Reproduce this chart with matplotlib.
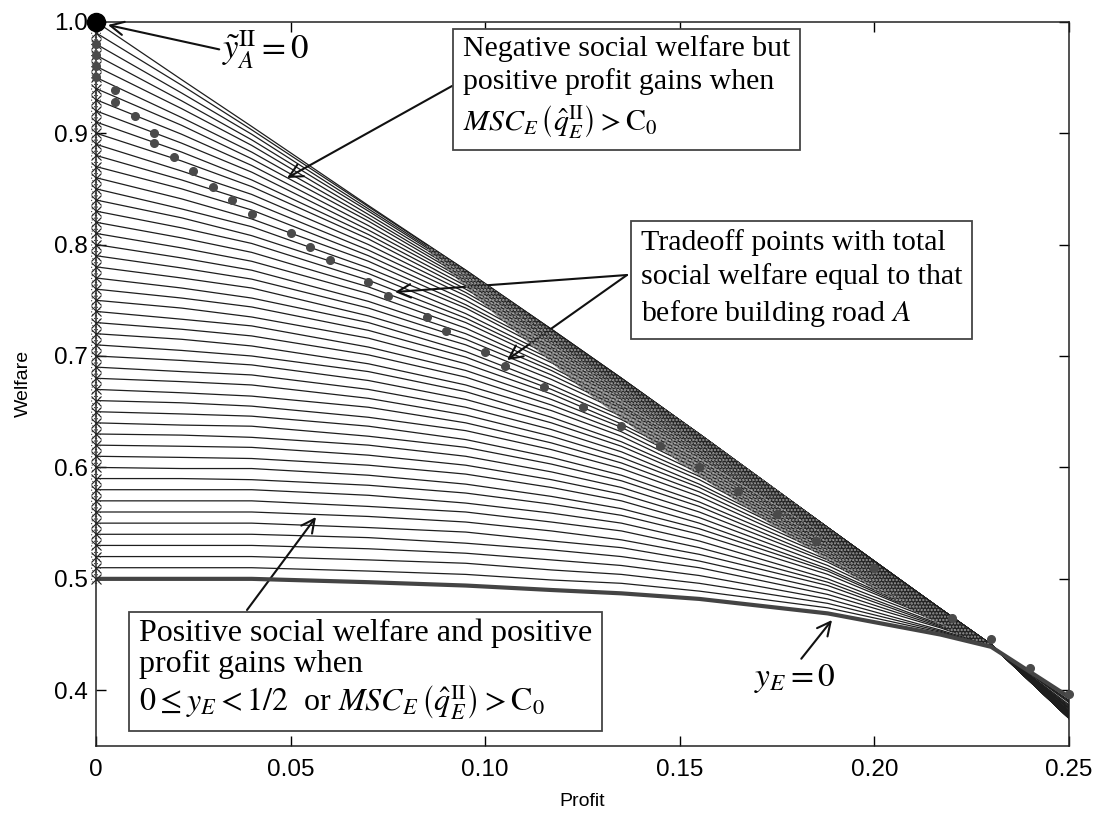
import matplotlib
matplotlib.use("Agg")
import matplotlib.pyplot as plt

plt.rcParams['font.family'] = ['Liberation Sans', 'DejaVu Sans']
plt.rcParams['mathtext.fontset'] = 'stix'
plt.rcParams['hatch.linewidth'] = 1.1

# ---------------- data ----------------
# profit positions at which every welfare curve is sampled
p_cols = [0.0, 0.022, 0.04, 0.07, 0.095, 0.117, 0.135, 0.155, 0.188, 0.217, 0.23, 0.25]

# welfare of the 51 curves (bottom curve y_E = 0 first, top curve last) at each profit column
w_p000 = [0.50, 0.51, 0.52, 0.53, 0.54, 0.55, 0.56, 0.57, 0.58, 0.59, 0.60, 0.61, 0.62, 0.63, 0.64,
          0.65, 0.66, 0.67, 0.68, 0.69, 0.70, 0.71, 0.72, 0.73, 0.74, 0.75, 0.76, 0.77, 0.78, 0.79,
          0.80, 0.81, 0.82, 0.83, 0.84, 0.85, 0.86, 0.87, 0.88, 0.89, 0.90, 0.91, 0.92, 0.93, 0.94,
          0.95, 0.96, 0.97, 0.98, 0.99, 1.00]
w_p022 = [0.500, 0.510, 0.520, 0.530, 0.540, 0.550, 0.560, 0.570, 0.580, 0.590, 0.599, 0.609, 0.619,
          0.629, 0.638, 0.648, 0.658, 0.667, 0.677, 0.686, 0.696, 0.705, 0.715, 0.724, 0.733, 0.743,
          0.752, 0.761, 0.770, 0.779, 0.788, 0.797, 0.806, 0.815, 0.824, 0.832, 0.841, 0.850, 0.858,
          0.866, 0.875, 0.883, 0.891, 0.899, 0.907, 0.914, 0.922, 0.929, 0.936, 0.943, 0.948]
w_p040 = [0.500, 0.510, 0.520, 0.530, 0.540, 0.550, 0.560, 0.570, 0.580, 0.589, 0.599, 0.608, 0.618,
          0.627, 0.637, 0.646, 0.655, 0.664, 0.674, 0.683, 0.692, 0.700, 0.709, 0.718, 0.727, 0.735,
          0.744, 0.752, 0.761, 0.769, 0.777, 0.785, 0.793, 0.801, 0.808, 0.816, 0.823, 0.831, 0.838,
          0.845, 0.852, 0.858, 0.865, 0.871, 0.877, 0.883, 0.889, 0.894, 0.899, 0.903, 0.906]
w_p070 = [0.497, 0.507, 0.517, 0.527, 0.537, 0.546, 0.556, 0.565, 0.575, 0.584, 0.593, 0.602, 0.611,
          0.620, 0.628, 0.637, 0.645, 0.654, 0.662, 0.670, 0.678, 0.686, 0.693, 0.701, 0.708, 0.716,
          0.723, 0.730, 0.736, 0.743, 0.749, 0.756, 0.762, 0.768, 0.774, 0.779, 0.785, 0.790, 0.795,
          0.800, 0.805, 0.809, 0.813, 0.817, 0.821, 0.824, 0.827, 0.830, 0.832, 0.834, 0.835]
w_p095 = [0.494, 0.504, 0.514, 0.523, 0.532, 0.542, 0.551, 0.560, 0.568, 0.577, 0.585, 0.594, 0.602,
          0.610, 0.618, 0.625, 0.633, 0.640, 0.647, 0.654, 0.661, 0.668, 0.674, 0.681, 0.687, 0.693,
          0.699, 0.704, 0.710, 0.715, 0.720, 0.725, 0.730, 0.734, 0.738, 0.743, 0.746, 0.750, 0.754,
          0.757, 0.760, 0.763, 0.766, 0.768, 0.770, 0.772, 0.774, 0.775, 0.776, 0.777, 0.777]
w_p117 = [0.490, 0.499, 0.508, 0.517, 0.526, 0.534, 0.543, 0.551, 0.559, 0.567, 0.574, 0.582, 0.589,
          0.596, 0.603, 0.609, 0.616, 0.622, 0.628, 0.634, 0.640, 0.645, 0.651, 0.656, 0.661, 0.666,
          0.670, 0.674, 0.679, 0.683, 0.687, 0.690, 0.694, 0.697, 0.700, 0.703, 0.706, 0.708, 0.711,
          0.713, 0.715, 0.716, 0.718, 0.719, 0.721, 0.722, 0.723, 0.723, 0.724, 0.724, 0.724]
w_p135 = [0.487, 0.496, 0.504, 0.512, 0.520, 0.528, 0.535, 0.543, 0.550, 0.557, 0.563, 0.570, 0.576,
          0.582, 0.588, 0.593, 0.599, 0.604, 0.609, 0.614, 0.619, 0.623, 0.628, 0.632, 0.636, 0.639,
          0.643, 0.646, 0.650, 0.653, 0.655, 0.658, 0.661, 0.663, 0.665, 0.667, 0.669, 0.671, 0.672,
          0.674, 0.675, 0.676, 0.677, 0.678, 0.678, 0.679, 0.679, 0.680, 0.680, 0.680, 0.680]
w_p155 = [0.482, 0.489, 0.496, 0.503, 0.510, 0.516, 0.522, 0.528, 0.534, 0.540, 0.545, 0.550, 0.555,
          0.560, 0.565, 0.569, 0.574, 0.578, 0.582, 0.585, 0.589, 0.592, 0.595, 0.598, 0.601, 0.604,
          0.606, 0.609, 0.611, 0.613, 0.615, 0.617, 0.618, 0.620, 0.621, 0.623, 0.624, 0.625, 0.626,
          0.627, 0.627, 0.628, 0.628, 0.629, 0.629, 0.630, 0.630, 0.630, 0.630, 0.630, 0.630]
w_p188 = [0.469, 0.474, 0.478, 0.482, 0.486, 0.490, 0.494, 0.497, 0.500, 0.504, 0.507, 0.509, 0.512,
          0.515, 0.517, 0.520, 0.522, 0.524, 0.526, 0.528, 0.529, 0.531, 0.532, 0.534, 0.535, 0.536,
          0.537, 0.539, 0.539, 0.540, 0.541, 0.542, 0.542, 0.543, 0.543, 0.544, 0.544, 0.545, 0.545,
          0.545, 0.545, 0.546, 0.546, 0.546, 0.546, 0.546, 0.546, 0.546, 0.546, 0.546, 0.546]
w_p217 = [0.450, 0.452, 0.453, 0.454, 0.456, 0.457, 0.458, 0.459, 0.461, 0.462, 0.462, 0.463, 0.464,
          0.465, 0.466, 0.466, 0.467, 0.468, 0.468, 0.469, 0.469, 0.470, 0.470, 0.470, 0.471, 0.471,
          0.471, 0.471, 0.472, 0.472, 0.472, 0.472, 0.472, 0.472, 0.473, 0.473, 0.473, 0.473, 0.473,
          0.473, 0.473, 0.473, 0.473, 0.473, 0.473, 0.473, 0.473, 0.473, 0.473, 0.473, 0.473]
w_p230 = [0.439, 0.439, 0.439, 0.440, 0.440, 0.440, 0.440, 0.440, 0.440, 0.440, 0.440, 0.440, 0.440,
          0.441, 0.441, 0.441, 0.441, 0.441, 0.441, 0.441, 0.441, 0.441, 0.441, 0.441, 0.441, 0.441,
          0.441, 0.441, 0.441, 0.441, 0.441, 0.441, 0.441, 0.441, 0.441, 0.441, 0.441, 0.441, 0.441,
          0.441, 0.441, 0.441, 0.441, 0.441, 0.441, 0.441, 0.441, 0.441, 0.441, 0.441, 0.441]
w_p250 = [0.394, 0.393, 0.391, 0.390, 0.389, 0.387, 0.386, 0.385, 0.384, 0.384, 0.383, 0.382, 0.381,
          0.381, 0.380, 0.380, 0.379, 0.379, 0.378, 0.378, 0.377, 0.377, 0.377, 0.377, 0.376, 0.376,
          0.376, 0.376, 0.376, 0.376, 0.375, 0.375, 0.375, 0.375, 0.375, 0.375, 0.375, 0.375, 0.375,
          0.375, 0.375, 0.375, 0.375, 0.375, 0.375, 0.375, 0.375, 0.375, 0.375, 0.375, 0.375]

# tradeoff points (total social welfare equal to that before building road A)
tp_profit = [0.0, 0.0, 0.0, 0.0, 0.005, 0.005, 0.010, 0.015, 0.015, 0.020, 0.025, 0.030, 0.035,
             0.040, 0.050, 0.055, 0.060, 0.070, 0.075, 0.085, 0.090, 0.100, 0.105, 0.115, 0.125,
             0.135, 0.145, 0.155, 0.165, 0.175, 0.185, 0.200, 0.220, 0.230, 0.240, 0.250]
tp_welfare = [0.980, 0.970, 0.960, 0.950, 0.939, 0.928, 0.915, 0.900, 0.891, 0.879, 0.866, 0.852,
              0.840, 0.827, 0.810, 0.798, 0.786, 0.766, 0.754, 0.735, 0.722, 0.704, 0.691, 0.672,
              0.654, 0.637, 0.619, 0.600, 0.579, 0.558, 0.534, 0.510, 0.465, 0.446, 0.420, 0.397]

# dense dotted band hugging the upper envelope
band_profit = [0.085, 0.10, 0.125, 0.15, 0.175, 0.20, 0.22, 0.23]
band_hi = [0.800, 0.765, 0.704, 0.643, 0.580, 0.515, 0.465, 0.441]
band_lo = [0.795, 0.745, 0.670, 0.604, 0.545, 0.490, 0.452, 0.439]

# corner point y~_A^II = 0
corner_profit = [0.0]
corner_welfare = [1.0]

x_ticks = [0, 0.05, 0.10, 0.15, 0.20, 0.25]
x_tick_labels = ['0', '0.05', '0.10', '0.15', '0.20', '0.25']
y_ticks = [0.4, 0.5, 0.6, 0.7, 0.8, 0.9, 1.0]
y_tick_labels = ['0.4', '0.5', '0.6', '0.7', '0.8', '0.9', '1.0']

# ---------------- drawing ----------------
W, H = 1099, 814
fig = plt.figure(figsize=(W / 100, H / 100), dpi=100)
ax = fig.add_axes([96 / W, 1 - 746 / H, (1069 - 96) / W, (746 - 21.7) / H])
ax.set_xlim(0, 0.25)
ax.set_ylim(0.35, 1.0)

columns = [w_p000, w_p022, w_p040, w_p070, w_p095, w_p117, w_p135, w_p155, w_p188, w_p217,
           w_p230, w_p250]
n_curves = len(w_p000)

for i in range(n_curves - 1, -1, -1):
    ys = [col[i] for col in columns]
    if i == 0:
        ax.plot(p_cols, ys, color='#444444', lw=3.0, zorder=4, solid_joinstyle='round')
    else:
        ax.plot(p_cols, ys, color='#1e1e1e', lw=0.9, zorder=3)

# dotted band drawn over the crowded upper curves (lines still show through)
ax.fill_between(band_profit, band_lo, band_hi, facecolor='#262626', edgecolor='#e0e0e0',
                hatch='.....', linewidth=0, alpha=0.6, zorder=3.5)

# start markers (x and dotted circle) on the welfare axis
ax.plot([0.0] * n_curves, w_p000, linestyle='none', marker='x', ms=7, mew=0.8, color='#222222',
        clip_on=False, zorder=5)
ax.scatter([0.0] * n_curves, w_p000, s=40, facecolors='none', edgecolors='#333333',
           linestyles=':', linewidths=0.8, clip_on=False, zorder=5)

# tradeoff points
ax.plot(tp_profit, tp_welfare, linestyle='none', marker='o', ms=5.5, color='#4a4a4a',
        clip_on=False, zorder=6)
# corner point
ax.plot(corner_profit, corner_welfare, linestyle='none', marker='o', ms=13, color='black',
        clip_on=False, zorder=7)

# axes styling
ax.set_xticks(x_ticks)
ax.set_xticklabels(x_tick_labels)
ax.set_yticks(y_ticks)
ax.set_yticklabels(y_tick_labels)
ax.tick_params(direction='in', length=7, width=1, top=True, right=True, labelsize=17.5)
ax.tick_params(axis='x', pad=9)
ax.tick_params(axis='y', pad=6)
for s in ax.spines.values():
    s.set_linewidth(1.1)
    s.set_color('#222222')
ax.set_xlabel('Profit', fontsize=14, labelpad=9)
ax.set_ylabel('Welfare', fontsize=14, labelpad=16)

serif = ['Liberation Serif', 'DejaVu Serif']


def px(xp, yp):
    return (xp - 96) / 3892.0, 1.0 - (yp - 21.7) / 1114.3


arrow_kw = dict(arrowstyle='->', lw=1.5, color='#111111', mutation_scale=24, shrinkA=0, shrinkB=0)

# y~_A^II = 0
ax.annotate(r'$\tilde{y}_A^{\mathrm{II}} = 0$', xy=px(108, 25), xytext=px(222, 50),
            fontsize=25, ha='left', va='center', family=serif,
            arrowprops=dict(arrow_kw, relpos=(0.0, 0.5)))

box_kw = dict(boxstyle='square,pad=0.32', facecolor='white', edgecolor='#444444', linewidth=1.3)

# box 1
fig.text(463 / W, 1 - 35 / H,
         'Negative social welfare but\npositive profit gains when\n'
         r'$MSC_E\,\left(\hat{q}_E^{\mathrm{II}}\right) > \mathrm{C}_0$',
         fontsize=21.5, family=serif, ha='left', va='top', linespacing=1.3, bbox=box_kw, zorder=10)
ax.annotate('', xy=px(287, 178), xytext=px(452, 86), arrowprops=arrow_kw)

# box 2
fig.text(641 / W, 1 - 229 / H,
         'Tradeoff points with total\nsocial welfare equal to that\nbefore building road $A$',
         fontsize=21.5, family=serif, ha='left', va='top', linespacing=1.35, bbox=box_kw, zorder=10)
ax.annotate('', xy=px(395, 292), xytext=px(627, 275), arrowprops=arrow_kw)
ax.annotate('', xy=px(507, 360), xytext=px(627, 275), arrowprops=arrow_kw)

# box 3
fig.text(139 / W, 1 - 619 / H,
         'Positive social welfare and positive\nprofit gains when\n'
         r'$0 \leq y_E < 1/2$  or $MSC_E\,\left(\hat{q}_E^{\mathrm{II}}\right) > \mathrm{C}_0$',
         fontsize=23, family=serif, ha='left', va='top', linespacing=1.08, bbox=box_kw, zorder=10)
ax.annotate('', xy=px(316, 517), xytext=px(247, 610), arrowprops=arrow_kw)

# y_E = 0
ax.annotate(r'$y_E = 0$', xy=px(832, 620), xytext=px(795, 678), fontsize=24, family=serif,
            ha='center', va='center', arrowprops=dict(arrow_kw, relpos=(0.55, 1.0)))

fig.savefig('out.png', dpi=100)
